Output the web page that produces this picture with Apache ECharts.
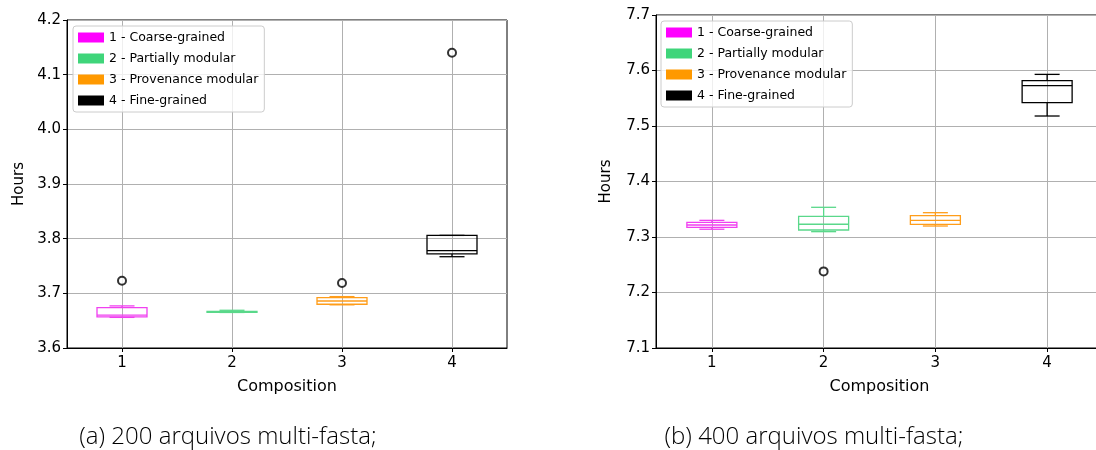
<!DOCTYPE html>
<html>
<head>
<meta charset="utf-8">
<script src="https://cdn.jsdelivr.net/npm/echarts@6/dist/echarts.min.js"></script>
<style>html,body{margin:0;padding:0;background:#fff}#c{width:1096px;height:450px}</style>
</head>
<body>
<div id="c"></div>
<script>
const categories = ['1', '2', '3', '4'];
const seriesNames = ['1 - Coarse-grained', '2 - Partially modular', '3 - Provenance modular', '4 - Fine-grained'];
const colors = ['#ff00ff', '#3fd57a', '#ff9900', '#000000'];
const lineColors = ['#f040f0', '#5ad88a', '#ff9d1a', '#000000'];
// [lowWhisker, Q1, median, Q3, highWhisker]
const boxA = [
  [3.656, 3.657, 3.660, 3.674, 3.677],
  [3.665, 3.665, 3.666, 3.667, 3.669],
  [3.679, 3.680, 3.686, 3.692, 3.694],
  [3.767, 3.772, 3.778, 3.806, 3.806]
];
const outliersA = [[0, 3.723], [2, 3.719], [3, 4.140]];
const boxB = [
  [7.314, 7.3175, 7.3216, 7.3265, 7.330],
  [7.3096, 7.3126, 7.323, 7.337, 7.3535],
  [7.3198, 7.3229, 7.330, 7.3384, 7.3438],
  [7.518, 7.542, 7.5726, 7.5816, 7.593]
];
const outliersB = [[1, 7.238]];
const yTicksA = [3.6, 4.2];
const yTicksB = [7.1, 7.7];
const captions = ['(a) 200 arquivos multi-fasta;', '(b) 400 arquivos multi-fasta;'];

const chart = echarts.init(document.getElementById('c'), null, {renderer: 'canvas'});
const FONT = 'DejaVu Sans';

function renderBox(params, api) {
  const i = api.value(0);
  const lo = api.coord([i, api.value(1)]);
  const q1 = api.coord([i, api.value(2)]);
  const md = api.coord([i, api.value(3)]);
  const q3 = api.coord([i, api.value(4)]);
  const hi = api.coord([i, api.value(5)]);
  const cx = md[0];
  const hw = 25, cw = 12.5;
  const st = {stroke: lineColors[i], lineWidth: 1.3, fill: null};
  return {
    type: 'group',
    children: [
      {type: 'rect', shape: {x: cx - hw, y: q3[1], width: 2 * hw, height: q1[1] - q3[1]}, style: st},
      {type: 'line', shape: {x1: cx - hw, y1: md[1], x2: cx + hw, y2: md[1]}, style: st},
      {type: 'line', shape: {x1: cx, y1: q3[1], x2: cx, y2: hi[1]}, style: st},
      {type: 'line', shape: {x1: cx, y1: q1[1], x2: cx, y2: lo[1]}, style: st},
      {type: 'line', shape: {x1: cx - cw, y1: hi[1], x2: cx + cw, y2: hi[1]}, style: st},
      {type: 'line', shape: {x1: cx - cw, y1: lo[1], x2: cx + cw, y2: lo[1]}, style: st}
    ]
  };
}

function xAxis(gi) {
  return {
    type: 'category', gridIndex: gi, data: categories, boundaryGap: true,
    name: 'Composition', nameLocation: 'middle', nameGap: 31,
    nameTextStyle: {fontFamily: FONT, fontSize: 16, color: '#000'},
    axisLine: {show: true, lineStyle: {color: '#000', width: 1}},
    axisTick: {show: true, alignWithLabel: true, inside: false, length: 4, lineStyle: {color: '#000'}},
    axisLabel: {fontFamily: FONT, fontSize: 15, color: '#000', margin: 8},
    splitLine: {show: true, alignWithLabel: true, lineStyle: {color: '#b0b0b0', width: 1}}
  };
}
function yAxis(gi, t, gap) {
  return {
    type: 'value', gridIndex: gi, min: t[0], max: t[1], interval: 0.1,
    name: 'Hours', nameLocation: 'middle', nameGap: gap, nameRotate: 90,
    nameTextStyle: {fontFamily: FONT, fontSize: 15, color: '#000'},
    axisLine: {show: true, lineStyle: {color: '#000', width: 1}},
    axisTick: {show: true, inside: false, length: 4, lineStyle: {color: '#000'}},
    axisLabel: {fontFamily: FONT, fontSize: 15, color: '#000', margin: 6, formatter: v => v.toFixed(1)},
    splitLine: {show: true, lineStyle: {color: '#b0b0b0', width: 1}}
  };
}
function legend(left, top) {
  return {
    data: seriesNames, orient: 'vertical', left: left, top: top,
    icon: 'rect', itemWidth: 26, itemHeight: 10, itemGap: 8,
    padding: [5, 6, 5, 5],
    backgroundColor: 'rgba(255,255,255,0.8)', borderColor: '#cccccc', borderWidth: 1, borderRadius: 3,
    textStyle: {fontFamily: FONT, fontSize: 12.5, color: '#000'},
    selectedMode: false
  };
}

const series = [];
[[boxA, outliersA], [boxB, outliersB]].forEach(([box, outs], gi) => {
  series.push({
    type: 'custom', xAxisIndex: gi, yAxisIndex: gi, renderItem: renderBox,
    encode: {x: 0, y: [1, 2, 3, 4, 5]},
    data: box.map((b, i) => [i].concat(b)), z: 5
  });
  series.push({
    type: 'scatter', xAxisIndex: gi, yAxisIndex: gi, symbol: 'emptyCircle', symbolSize: 8,
    itemStyle: {color: '#000', borderColor: '#000', borderWidth: 1},
    data: outs, z: 6
  });
});
seriesNames.forEach((n, i) => {
  series.push({type: 'line', name: n, xAxisIndex: 0, yAxisIndex: 0, data: [], itemStyle: {color: colors[i]}, lineStyle: {color: colors[i]}});
});

chart.setOption({
  animation: false,
  backgroundColor: '#fff',
  grid: [
    {left: 67, top: 20, width: 440, height: 328, show: true, borderColor: '#000', borderWidth: 1, outerBoundsMode: 'none', containLabel: false},
    {left: 656, top: 15, width: 447, height: 333, show: true, borderColor: '#000', borderWidth: 1, outerBoundsMode: 'none', containLabel: false}
  ],
  xAxis: [xAxis(0), xAxis(1)],
  yAxis: [yAxis(0, yTicksA, 40), yAxis(1, yTicksB, 42)],
  legend: [legend(73, 26), legend(661, 21)],
  graphic: [
    {type: 'text', x: 228, y: 437, style: {text: captions[0], fontFamily: 'Open Sans', fontWeight: 300, fontSize: 24, fill: '#000', textAlign: 'center', textVerticalAlign: 'middle'}},
    {type: 'text', x: 814, y: 437, style: {text: captions[1], fontFamily: 'Open Sans', fontWeight: 300, fontSize: 24, fill: '#000', textAlign: 'center', textVerticalAlign: 'middle'}}
  ],
  series: series
});
</script>
</body>
</html>
